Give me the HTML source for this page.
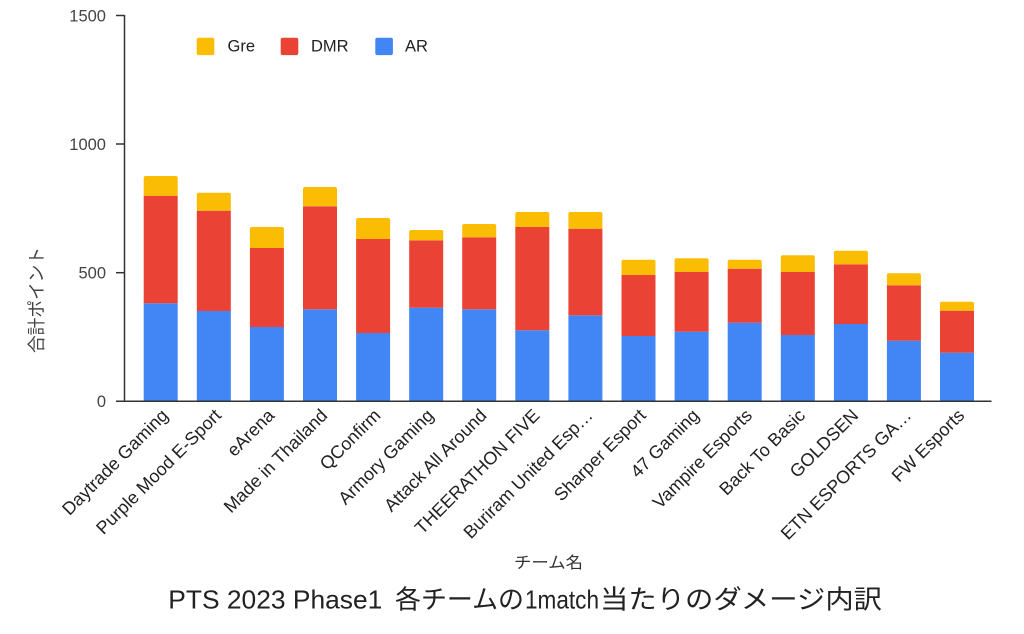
<!DOCTYPE html>
<html><head><meta charset="utf-8"><style>
html,body{margin:0;padding:0;background:#fff;}
svg{display:block;}
text{font-family:"Liberation Sans","Noto Sans CJK JP",sans-serif;}
</style></head><body>
<svg width="1024" height="634" viewBox="0 0 1024 634" xmlns="http://www.w3.org/2000/svg">
<rect x="0" y="0" width="1024" height="634" fill="#fff"/>
<!-- y axis -->
<line x1="124.5" y1="15" x2="124.5" y2="401.5" stroke="#333" stroke-width="1.5"/>
<g stroke="#333" stroke-width="1.5">
<line x1="116" y1="15.5" x2="124.5" y2="15.5"/>
<line x1="116" y1="144" x2="124.5" y2="144"/>
<line x1="116" y1="272.7" x2="124.5" y2="272.7"/>
</g>
<g font-size="16.5" fill="#444" text-anchor="end">
<text x="106" y="21.5">1500</text>
<text x="106" y="150">1000</text>
<text x="106" y="278.5">500</text>
<text x="106" y="407">0</text>
</g>
<!-- bars -->
<g id="bars"></g>
<!-- legend -->
<rect x="196.7" y="37.7" width="17.6" height="17.4" rx="2" fill="#FBBC04"/>
<rect x="280.7" y="37.7" width="17.6" height="17.4" rx="2" fill="#EA4335"/>
<rect x="375.3" y="37.7" width="17.6" height="17.4" rx="2" fill="#4285F4"/>
<g font-size="16.5" fill="#222">
<text x="227.5" y="51.7">Gre</text>
<text x="311" y="51.7">DMR</text>
<text x="405" y="51.7">AR</text>
</g>
<!-- y title -->
<text transform="translate(43,300) rotate(-90)" text-anchor="middle" font-size="18" fill="#444" textLength="106" lengthAdjust="spacingAndGlyphs">合計ポイント</text>
<!-- x title -->
<text x="514" y="568" font-size="16" fill="#333" textLength="69" lengthAdjust="spacingAndGlyphs">チーム名</text>
<!-- main title -->
<g font-size="26" fill="#222">
<text x="168.3" y="608.3" textLength="214" lengthAdjust="spacingAndGlyphs">PTS 2023 Phase1</text>
<text x="395" y="608.3" textLength="129" lengthAdjust="spacingAndGlyphs">各チームの</text>
<text x="525" y="608.3" textLength="74" lengthAdjust="spacingAndGlyphs">1match</text>
<text x="600" y="608.3" textLength="282" lengthAdjust="spacingAndGlyphs">当たりのダメージ内訳</text>
</g>
<g id="labels" font-size="18" fill="#222" text-anchor="end"></g>
<!-- static bars -->
<g>
<path d="M143.7,401 V176 h34 V401 Z" fill="none"/>
</g>
<g id="static">
<!-- generated inline below -->
<rect x="143.7" y="303.3" width="34" height="97.7" fill="#4285F4"/><rect x="143.7" y="195.7" width="34" height="107.6" fill="#EA4335"/><path d="M143.7,195.7 V178 a2,2 0 0 1 2,-2 H175.7 a2,2 0 0 1 2,2 V195.7 Z" fill="#FBBC04"/>
<rect x="196.8" y="311" width="34" height="90" fill="#4285F4"/><rect x="196.8" y="210.7" width="34" height="100.3" fill="#EA4335"/><path d="M196.8,210.7 V194.7 a2,2 0 0 1 2,-2 H228.8 a2,2 0 0 1 2,2 V210.7 Z" fill="#FBBC04"/>
<rect x="249.9" y="327" width="34" height="74" fill="#4285F4"/><rect x="249.9" y="248" width="34" height="79" fill="#EA4335"/><path d="M249.9,248 V229 a2,2 0 0 1 2,-2 H281.9 a2,2 0 0 1 2,2 V248 Z" fill="#FBBC04"/>
<rect x="303" y="309.3" width="34" height="91.7" fill="#4285F4"/><rect x="303" y="206.3" width="34" height="103" fill="#EA4335"/><path d="M303,206.3 V189 a2,2 0 0 1 2,-2 H335 a2,2 0 0 1 2,2 V206.3 Z" fill="#FBBC04"/>
<rect x="356.1" y="333" width="34" height="68" fill="#4285F4"/><rect x="356.1" y="239" width="34" height="94" fill="#EA4335"/><path d="M356.1,239 V220 a2,2 0 0 1 2,-2 H388.1 a2,2 0 0 1 2,2 V239 Z" fill="#FBBC04"/>
<rect x="409.2" y="307.7" width="34" height="93.3" fill="#4285F4"/><rect x="409.2" y="240.3" width="34" height="67.4" fill="#EA4335"/><path d="M409.2,240.3 V232 a2,2 0 0 1 2,-2 H441.2 a2,2 0 0 1 2,2 V240.3 Z" fill="#FBBC04"/>
<rect x="462.2" y="309.3" width="34" height="91.7" fill="#4285F4"/><rect x="462.2" y="237.3" width="34" height="72" fill="#EA4335"/><path d="M462.2,237.3 V226 a2,2 0 0 1 2,-2 H494.2 a2,2 0 0 1 2,2 V237.3 Z" fill="#FBBC04"/>
<rect x="515.3" y="330.3" width="34" height="70.7" fill="#4285F4"/><rect x="515.3" y="227" width="34" height="103.3" fill="#EA4335"/><path d="M515.3,227 V214 a2,2 0 0 1 2,-2 H547.3 a2,2 0 0 1 2,2 V227 Z" fill="#FBBC04"/>
<rect x="568.4" y="315.3" width="34" height="85.7" fill="#4285F4"/><rect x="568.4" y="228.7" width="34" height="86.6" fill="#EA4335"/><path d="M568.4,228.7 V214 a2,2 0 0 1 2,-2 H600.4 a2,2 0 0 1 2,2 V228.7 Z" fill="#FBBC04"/>
<rect x="621.5" y="336" width="34" height="65" fill="#4285F4"/><rect x="621.5" y="275" width="34" height="61" fill="#EA4335"/><path d="M621.5,275 V261.7 a2,2 0 0 1 2,-2 H653.5 a2,2 0 0 1 2,2 V275 Z" fill="#FBBC04"/>
<rect x="674.6" y="331.7" width="34" height="69.3" fill="#4285F4"/><rect x="674.6" y="272" width="34" height="59.7" fill="#EA4335"/><path d="M674.6,272 V260.3 a2,2 0 0 1 2,-2 H706.6 a2,2 0 0 1 2,2 V272 Z" fill="#FBBC04"/>
<rect x="727.7" y="322.7" width="34" height="78.3" fill="#4285F4"/><rect x="727.7" y="268.7" width="34" height="54" fill="#EA4335"/><path d="M727.7,268.7 V261.7 a2,2 0 0 1 2,-2 H759.7 a2,2 0 0 1 2,2 V268.7 Z" fill="#FBBC04"/>
<rect x="780.8" y="335" width="34" height="66" fill="#4285F4"/><rect x="780.8" y="272" width="34" height="63" fill="#EA4335"/><path d="M780.8,272 V257.3 a2,2 0 0 1 2,-2 H812.8 a2,2 0 0 1 2,2 V272 Z" fill="#FBBC04"/>
<rect x="833.9" y="324" width="34" height="77" fill="#4285F4"/><rect x="833.9" y="264.3" width="34" height="59.7" fill="#EA4335"/><path d="M833.9,264.3 V252.7 a2,2 0 0 1 2,-2 H865.9 a2,2 0 0 1 2,2 V264.3 Z" fill="#FBBC04"/>
<rect x="886.9" y="340.7" width="34" height="60.3" fill="#4285F4"/><rect x="886.9" y="285.3" width="34" height="55.4" fill="#EA4335"/><path d="M886.9,285.3 V275.3 a2,2 0 0 1 2,-2 H918.9 a2,2 0 0 1 2,2 V285.3 Z" fill="#FBBC04"/>
<rect x="940" y="352.7" width="34" height="48.3" fill="#4285F4"/><rect x="940" y="310.7" width="34" height="42" fill="#EA4335"/><path d="M940,310.7 V303.7 a2,2 0 0 1 2,-2 H972 a2,2 0 0 1 2,2 V310.7 Z" fill="#FBBC04"/>
</g>
<!-- baseline -->
<line x1="116" y1="401.2" x2="991.5" y2="401.2" stroke="#333" stroke-width="1.5"/>
<!-- x labels -->
<g font-size="18" fill="#222" text-anchor="end">
<text transform="translate(169.2,416.5) rotate(-45)">Daytrade Gaming</text>
<text transform="translate(222.3,416.5) rotate(-45)">Purple Mood E-Sport</text>
<text transform="translate(275.4,416.5) rotate(-45)">eArena</text>
<text transform="translate(328.5,416.5) rotate(-45)">Made in Thailand</text>
<text transform="translate(381.6,416.5) rotate(-45)">QConfirm</text>
<text transform="translate(434.7,416.5) rotate(-45)">Armory Gaming</text>
<text transform="translate(487.7,416.5) rotate(-45)">Attack All Around</text>
<text transform="translate(540.8,416.5) rotate(-45)">THEERATHON FIVE</text>
<text transform="translate(593.9,416.5) rotate(-45)">Buriram United Esp…</text>
<text transform="translate(647,416.5) rotate(-45)">Sharper Esport</text>
<text transform="translate(700.1,416.5) rotate(-45)">47 Gaming</text>
<text transform="translate(753.2,416.5) rotate(-45)">Vampire Esports</text>
<text transform="translate(806.3,416.5) rotate(-45)">Back To Basic</text>
<text transform="translate(859.4,416.5) rotate(-45)">GOLDSEN</text>
<text transform="translate(912.4,416.5) rotate(-45)">ETN ESPORTS GA…</text>
<text transform="translate(965.5,416.5) rotate(-45)">FW Esports</text>
</g>
</svg>
</body></html>
